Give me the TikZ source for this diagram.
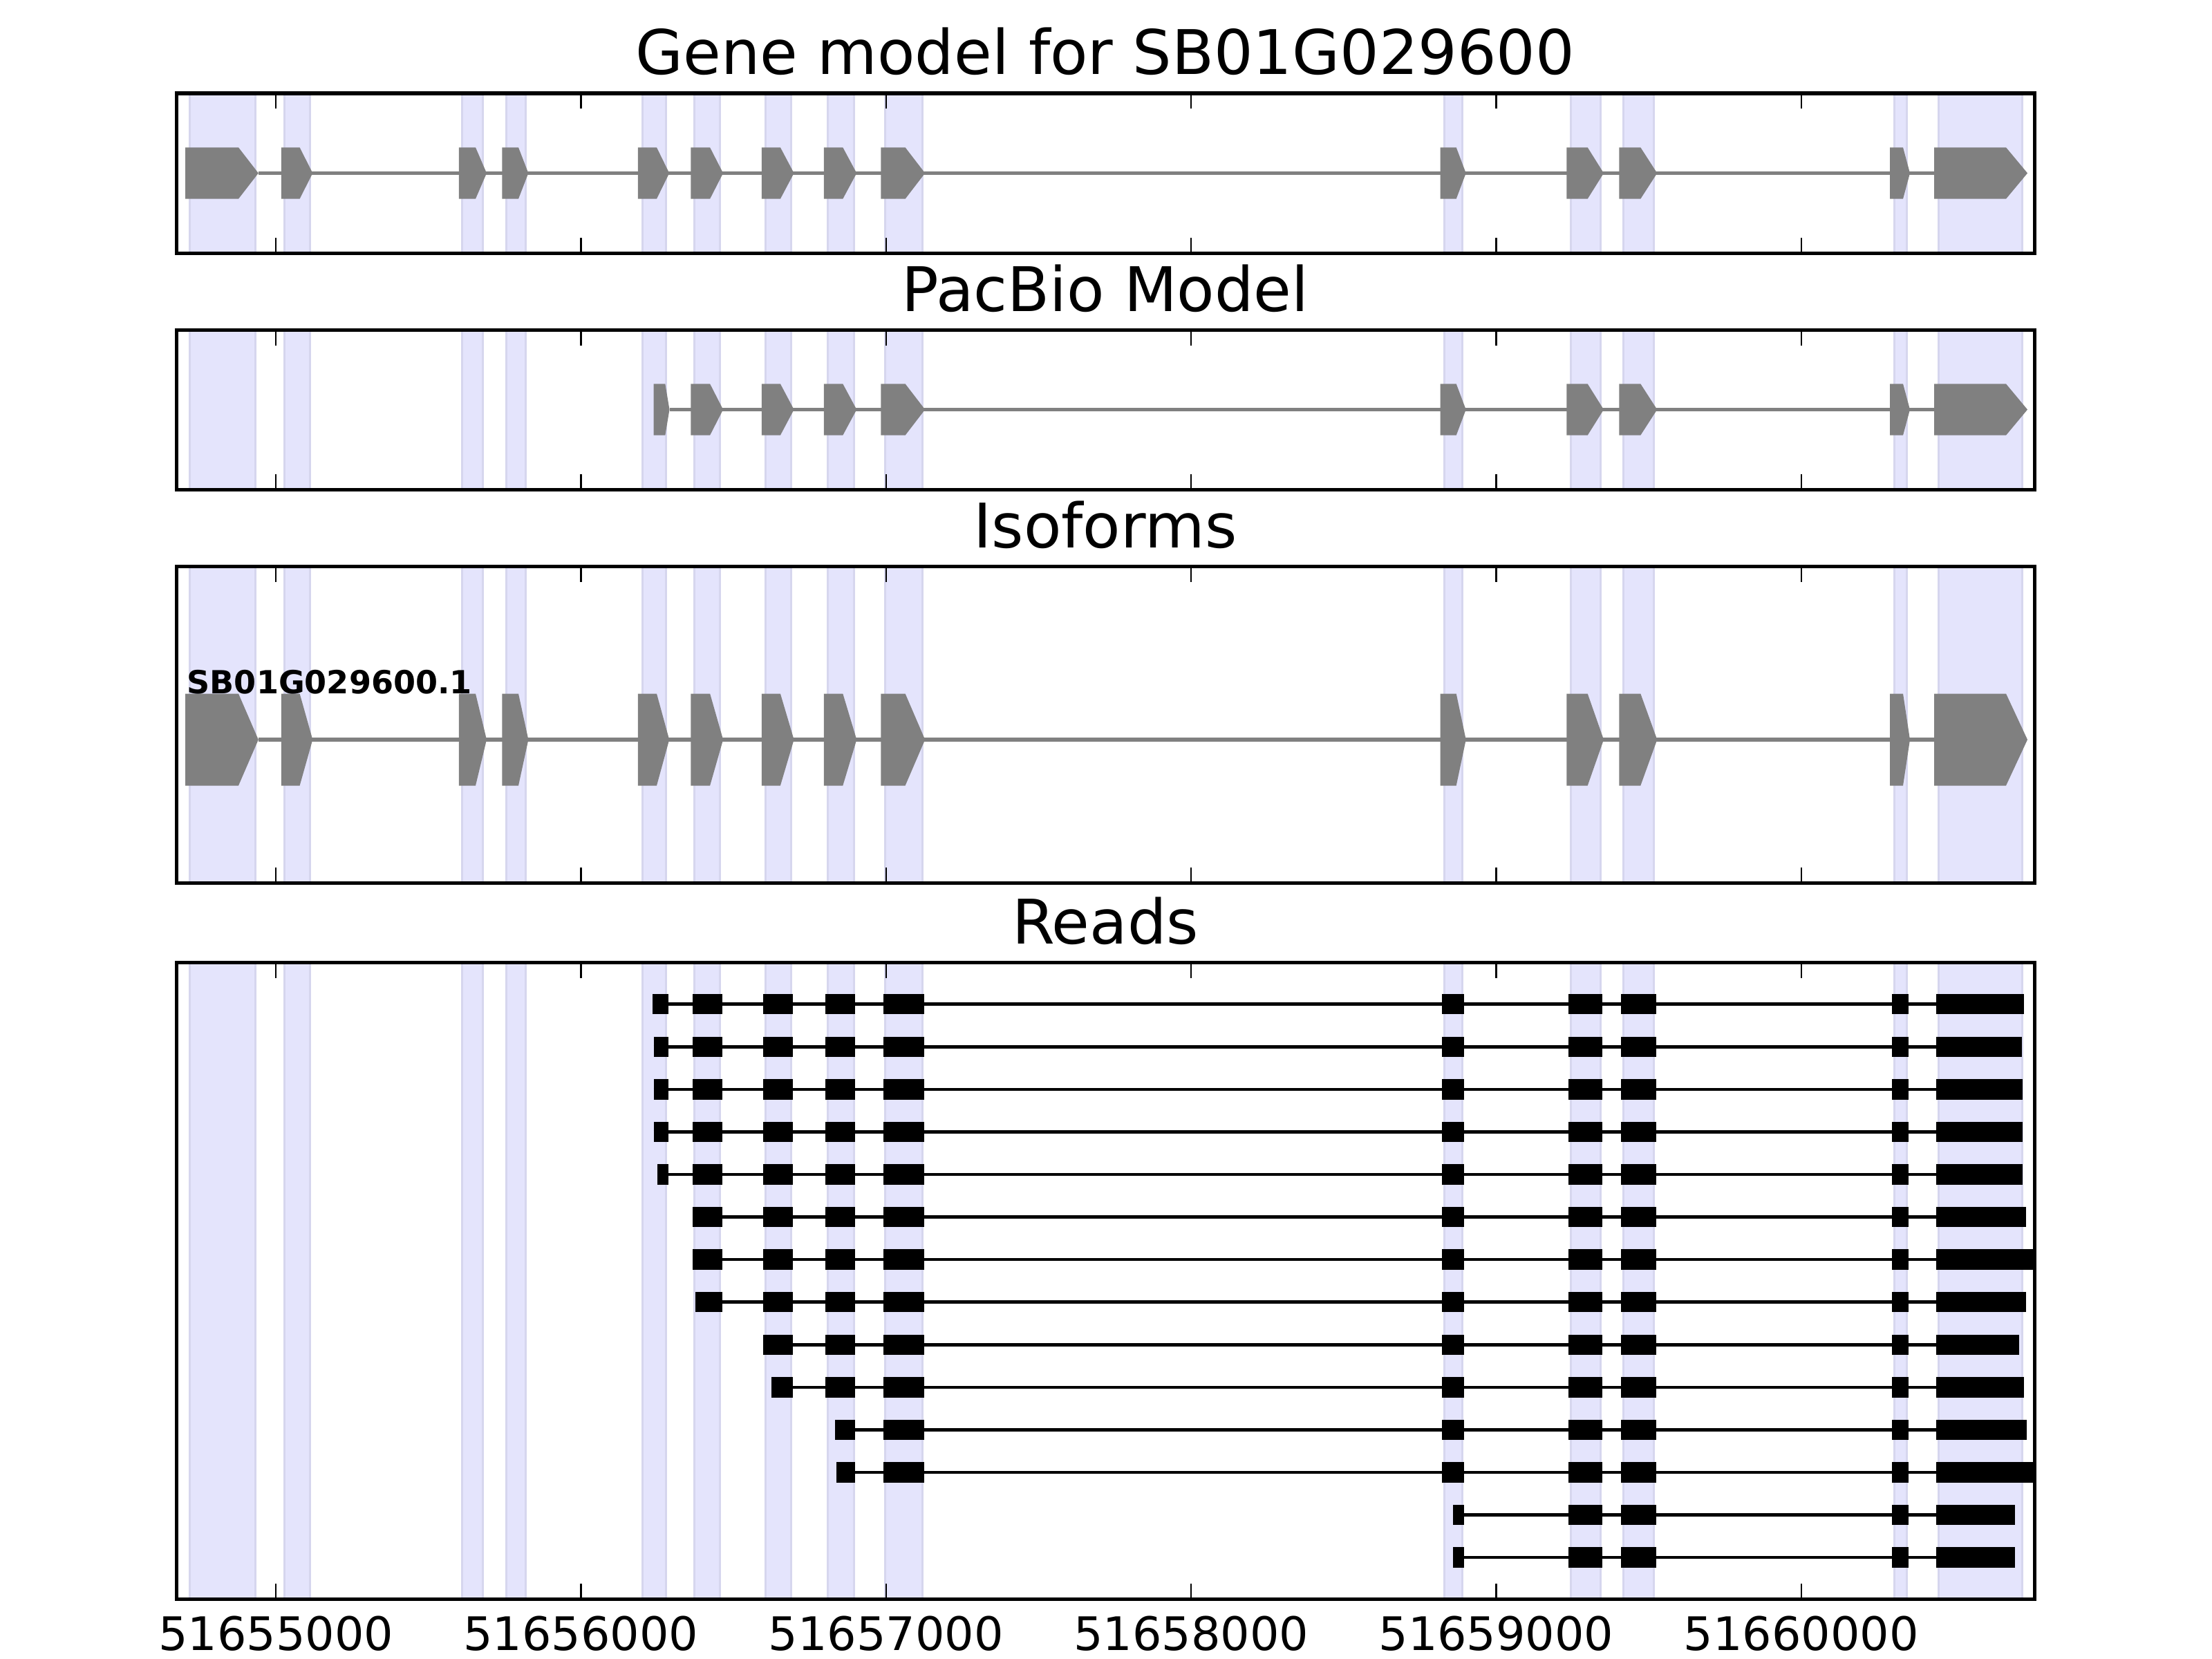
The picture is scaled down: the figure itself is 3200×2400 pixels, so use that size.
\documentclass[tikz,border=0pt]{standalone}
\usepackage{fontspec}
\setmainfont{DejaVu Sans}
\definecolor{bandfill}{RGB}{228,228,252}
\definecolor{bandedge}{RGB}{214,214,238}
\definecolor{exongray}{RGB}{128,128,128}
\tikzset{band/.style = {fill=bandfill, draw=bandedge, line width=0.03cm},
         exon/.style = {fill=exongray},
         intron/.style = {draw=exongray, line width=0.055cm},
         readline/.style = {draw=black, line width=0.045cm},
         readblock/.style = {fill=black},
         frame/.style = {draw=black, line width=0.05cm},
         tickmark/.style = {draw=black, line width=0.025cm},
         paneltitle/.style = {anchor=base, inner sep=0pt, font=\fontsize{25.3}{30}\selectfont},
         ticklabel/.style = {anchor=base, inner sep=0pt, font=\fontsize{19}{23}\selectfont}}
\newcommand{\exonarrow}[5]{\fill[exon] (#3,#1-#2) -- (#4,#1-#2) -- (#5,#1) -- (#4,#1+#2) -- (#3,#1+#2) -- cycle;}
\def\bands{274/369, 411/448.5, 668.5/698.5, 732/760, 929/963.5, 1004.5/1041.5, 1107/1144,
  1197/1235, 1280.5/1334, 2089.3/2115.5, 2272/2315, 2348/2392.5, 2740/2758, 2804/2925.3}
\def\genemodel{268/345/373.8, 406.8/433.6/452.3, 663.9/688/704, 726.4/750/764.4,
  922.9/950/968.2, 999.3/1027.1/1046.1, 1101.8/1128.9/1148.6, 1191.8/1219.3/1239.3,
  1274.3/1309.6/1338.2, 2083.7/2106.7/2120.7, 2266.3/2296.7/2320, 2342.3/2373.3/2397.3,
  2734/2753/2763, 2798/2902/2933}
\def\pacbio{945.5/962.3/968.5, 999.3/1027.1/1046.1, 1101.8/1128.9/1148.6, 1191.8/1219.3/1239.3,
  1274.3/1309.6/1338.2, 2083.7/2106.7/2120.7, 2266.3/2296.7/2320, 2342.3/2373.3/2397.3,
  2734/2753/2763, 2798/2902/2933}
\def\blockleft{{944,1002.2,1104.3,1194.3,1277.6,2085.7,2269.4,2344.7,2737.1,2801}}
\def\blockright{{967,1045,1147.4,1237.3,1336.5,2118.3,2317.8,2396.1,2761,2925}}

\begin{document}
\begin{tikzpicture}[x=0.01cm, y=-0.01cm]
  \useasboundingbox (0,0) rectangle (3200,2400);

  \foreach \ptop/\pbot in {135/366, 477/708, 819/1277, 1392/2313}
    \foreach \a/\b in \bands
      \filldraw [band] (\a,\ptop) rectangle (\b,\pbot);

  \draw [intron] (373.8,250.5) -- (2798,250.5);
  \foreach \s/\m/\t in \genemodel {\exonarrow{250.5}{37.2}{\s}{\m}{\t}}

  \draw [intron] (968.5,592.5) -- (2798,592.5);
  \foreach \s/\m/\t in \pacbio {\exonarrow{592.5}{37.2}{\s}{\m}{\t}}

  \draw [intron] (373.8,1070) -- (2798,1070);
  \foreach \s/\m/\t in \genemodel {\exonarrow{1070}{66.5}{\s}{\m}{\t}}
  \node [anchor=base west, inner sep=0pt, font=\bfseries\fontsize{13.1}{16}\selectfont]
    (isoname) at (270,1003) {SB01G029600.1};

  \foreach \r/\f/\xs/\xe in {1/1/944/2927.6, 2/1/945.6/2924.5, 3/1/945.6/2925.7, 4/1/945.6/2926.3,
      5/1/951/2926.3, 6/2/1002.2/2931.2, 7/2/1002.2/2943, 8/2/1006/2931.2, 9/3/1104.3/2921.4,
      10/3/1116.3/2927.6, 11/4/1208.3/2932.4, 12/4/1210.3/2943, 13/6/2102.3/2915, 14/6/2102.3/2915} {
    \pgfmathsetmacro{\y}{1452.7+(\r-1)*61.57}
    \draw [readline] (\xs,\y) -- (\xe,\y);
    \foreach \i in {\f,...,10} {
      \pgfmathsetmacro{\xl}{\blockleft[\i-1]}
      \pgfmathsetmacro{\xr}{\blockright[\i-1]}
      \ifnum\i=\f\relax \let\xl\xs \fi
      \ifnum\i=10\relax \let\xr\xe \fi
      \fill [readblock] (\xl,\y-14.65) rectangle (\xr,\y+14.65);
    }
  }

  \foreach \ptop/\pbot/\ttl/\nm in {135/366/{Gene model for SB01G029600}/gene,
      477/708/{PacBio Model}/pacbio, 819/1277/{Isoforms}/iso, 1392/2313/{Reads}/reads} {
    \foreach \k in {0,...,5} {
      \pgfmathsetmacro{\tx}{399.2+441.33*\k}
      \draw [tickmark] (\tx,\ptop) -- ++(0,22.5);
      \draw [tickmark] (\tx,\pbot) -- ++(0,-22.5);
    }
    \draw [frame] (255,\ptop) rectangle (2943,\pbot);
    \node [paneltitle] (title-\nm) at (1599,\ptop-27) {\ttl};
  }

  \foreach \k in {0,...,5} {
    \pgfmathsetmacro{\tx}{399.2+441.33*\k}
    \node [ticklabel] (poslabel-\k) at (\tx,2387) {\the\numexpr 51655+\k\relax 000};
  }
\end{tikzpicture}
\end{document}
